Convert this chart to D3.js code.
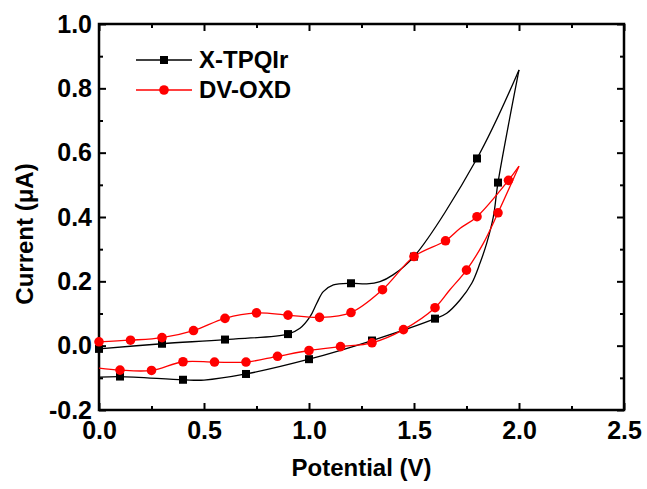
<!DOCTYPE html>
<html><head><meta charset="utf-8">
<script src="https://cdn.jsdelivr.net/npm/d3@7"></script>
<style>
body{margin:0;background:#fff}
svg{display:block}
text{font-family:Arial,"Liberation Sans",sans-serif;font-weight:bold;fill:#000}
</style>
</head><body>
<svg id="chart" width="647" height="489"></svg>
<script>
// Cyclic voltammograms: potential (V) vs current (µA)
const seriesNames = ["X-TPQIr", "DV-OXD"];
const seriesColors = ["#000000", "#ff0000"];

// X-TPQIr trace, anodic sweep then return sweep
const tpqForward = [[0,-0.010],[0.3,0.006],[0.6,0.019],[0.9,0.036],[0.957,0.054],[1.005,0.090],[1.037,0.132],[1.068,0.168],[1.116,0.189],[1.2,0.194],[1.275,0.192],[1.338,0.199],[1.40,0.220],[1.5,0.277],[1.8,0.582],[2.0,0.857]];
const tpqReverse = [[2.0,0.857],[1.9,0.507],[1.878,0.401],[1.846,0.318],[1.814,0.256],[1.775,0.194],[1.719,0.142],[1.656,0.101],[1.6,0.084],[1.3,0.016],[1.0,-0.042],[0.7,-0.088],[0.5,-0.107],[0.4,-0.106],[0.1,-0.096],[0,-0.098]];
const tpqMarks = [[0,-0.010],[0.3,0.006],[0.6,0.019],[0.9,0.036],[1.2,0.194],[1.5,0.277],[1.8,0.582],[1.9,0.507],[1.6,0.084],[1.3,0.016],[1.0,-0.042],[0.7,-0.088],[0.4,-0.106],[0.1,-0.096]];

// DV-OXD trace, anodic sweep then return sweep
const oxdForward = [[0,0.012],[0.15,0.017],[0.3,0.025],[0.45,0.047],[0.6,0.085],[0.75,0.102],[0.9,0.095],[1.05,0.088],[1.2,0.103],[1.35,0.174],[1.5,0.277],[1.65,0.326],[1.72,0.365],[1.8,0.401],[1.95,0.514],[2.0,0.558]];
const oxdReverse = [[2.0,0.558],[1.9,0.413],[1.83,0.318],[1.75,0.235],[1.67,0.173],[1.6,0.118],[1.45,0.050],[1.3,0.009],[1.15,-0.003],[1.0,-0.015],[0.85,-0.033],[0.7,-0.051],[0.55,-0.051],[0.4,-0.050],[0.25,-0.077],[0.1,-0.076],[0,-0.070]];
const oxdMarks = [[0,0.012],[0.15,0.017],[0.3,0.025],[0.45,0.047],[0.6,0.085],[0.75,0.102],[0.9,0.095],[1.05,0.088],[1.2,0.103],[1.35,0.174],[1.5,0.277],[1.65,0.326],[1.8,0.401],[1.95,0.514],
  [1.9,0.413],[1.75,0.235],[1.6,0.118],[1.45,0.050],[1.3,0.009],[1.15,-0.003],[1.0,-0.015],[0.85,-0.033],[0.7,-0.051],[0.55,-0.051],[0.4,-0.050],[0.25,-0.077],[0.1,-0.076]];

const xTicks = [0, 0.5, 1.0, 1.5, 2.0, 2.5];
const xMinor = [0.25, 0.75, 1.25, 1.75, 2.25];
const yTicks = [-0.2, 0, 0.2, 0.4, 0.6, 0.8, 1.0];
const yMinor = [-0.1, 0.1, 0.3, 0.5, 0.7, 0.9];

const plot = {left: 99, right: 624, top: 24, bottom: 410};
const svg = d3.select("#chart");

const x = d3.scaleLinear().domain([0, 2.5]).range([plot.left, plot.right]);
const y = d3.scaleLinear().domain([-0.2, 1.0]).range([plot.bottom, plot.top]);
const fmt = d => d.toFixed(1);

function styleAxis(g) {
  g.select(".domain").remove();
  g.selectAll(".tick line").attr("stroke", "#000").attr("stroke-width", 2);
  g.selectAll("text").attr("font-size", 25).attr("font-family", "Arial, 'Liberation Sans', sans-serif").attr("font-weight", "bold").attr("fill", "#000");
}

// major + minor ticks on all four sides, pointing inward
svg.append("g").attr("transform", `translate(0,${plot.bottom})`)
  .call(d3.axisBottom(x).tickValues(xTicks).tickFormat(fmt).tickSize(-7).tickPadding(11)).call(styleAxis);
svg.append("g").attr("transform", `translate(0,${plot.bottom})`)
  .call(d3.axisBottom(x).tickValues(xMinor).tickFormat("").tickSize(-4)).call(styleAxis);
svg.append("g").attr("transform", `translate(0,${plot.top})`)
  .call(d3.axisTop(x).tickValues(xTicks).tickFormat("").tickSize(-7)).call(styleAxis);
svg.append("g").attr("transform", `translate(0,${plot.top})`)
  .call(d3.axisTop(x).tickValues(xMinor).tickFormat("").tickSize(-4)).call(styleAxis);
svg.append("g").attr("transform", `translate(${plot.left},0)`)
  .call(d3.axisLeft(y).tickValues(yTicks).tickFormat(fmt).tickSize(-7).tickPadding(7)).call(styleAxis);
svg.append("g").attr("transform", `translate(${plot.left},0)`)
  .call(d3.axisLeft(y).tickValues(yMinor).tickFormat("").tickSize(-4)).call(styleAxis);
svg.append("g").attr("transform", `translate(${plot.right},0)`)
  .call(d3.axisRight(y).tickValues(yTicks).tickFormat("").tickSize(-7)).call(styleAxis);
svg.append("g").attr("transform", `translate(${plot.right},0)`)
  .call(d3.axisRight(y).tickValues(yMinor).tickFormat("").tickSize(-4)).call(styleAxis);

// frame
svg.append("rect")
  .attr("x", plot.left).attr("y", plot.top)
  .attr("width", plot.right - plot.left).attr("height", plot.bottom - plot.top)
  .attr("fill", "none").attr("stroke", "#000").attr("stroke-width", 2.5);

// axis titles
svg.append("text").attr("x", (plot.left + plot.right) / 2).attr("y", 476)
  .attr("text-anchor", "middle").attr("font-size", 24).text("Potential (V)");
svg.append("text").attr("transform", "translate(33,234) rotate(-90)")
  .attr("text-anchor", "middle").attr("font-size", 24).text("Current (\u03bcA)");

// traces
const line = d3.line().x(d => x(d[0])).y(d => y(d[1])).curve(d3.curveCatmullRom.alpha(0.5));
const traces = [[tpqForward, tpqReverse], [oxdForward, oxdReverse]];
traces.forEach((branches, i) => {
  branches.forEach(b => {
    svg.append("path").datum(b).attr("d", line)
      .attr("fill", "none").attr("stroke", seriesColors[i]).attr("stroke-width", 1.3);
  });
});

// markers
const sq = 8;
svg.append("g").selectAll("rect").data(tpqMarks).join("rect")
  .attr("x", d => x(d[0]) - sq / 2).attr("y", d => y(d[1]) - sq / 2)
  .attr("width", sq).attr("height", sq).attr("fill", seriesColors[0]);
svg.append("g").selectAll("circle").data(oxdMarks).join("circle")
  .attr("cx", d => x(d[0])).attr("cy", d => y(d[1])).attr("r", 4.8).attr("fill", seriesColors[1]);

// legend
const legend = svg.append("g");
seriesNames.forEach((name, i) => {
  const ly = 60 + i * 30;
  legend.append("line").attr("x1", 136).attr("x2", 192).attr("y1", ly).attr("y2", ly)
    .attr("stroke", seriesColors[i]).attr("stroke-width", 1.3);
  if (i === 0) {
    legend.append("rect").attr("x", 164 - sq / 2).attr("y", ly - sq / 2).attr("width", sq).attr("height", sq).attr("fill", seriesColors[i]);
  } else {
    legend.append("circle").attr("cx", 164).attr("cy", ly).attr("r", 4.8).attr("fill", seriesColors[i]);
  }
  legend.append("text").attr("x", 199).attr("y", ly).attr("dy", "0.35em")
    .attr("font-size", 24).text(name);
});
</script>
</body></html>
